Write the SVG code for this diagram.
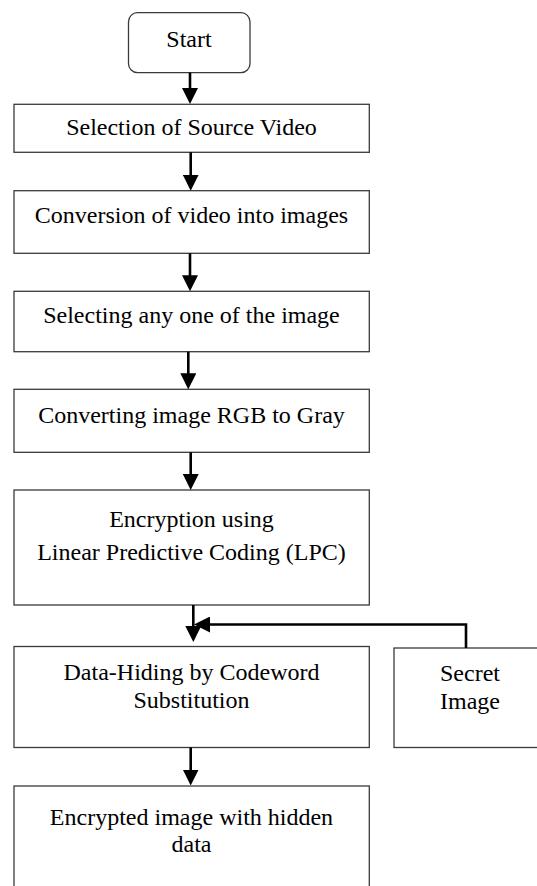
<svg xmlns="http://www.w3.org/2000/svg" width="537" height="886" viewBox="0 0 537 886">
  <style>
    .box { fill: #ffffff; stroke: #3a3a3a; stroke-width: 1.3; }
    .lbl { font-family: 'Liberation Serif', 'Times New Roman', serif; font-size: 24px; fill: #000000; text-anchor: middle; }
    .conn { fill: none; stroke: #000000; stroke-width: 2.6; }
  </style>
  <defs>
    <marker id="ah" viewBox="0 0 16 16" markerWidth="16" markerHeight="16" markerUnits="userSpaceOnUse" refX="8" refY="8" orient="auto">
      <path d="M0,0 L16,8 L0,16 Z" fill="#000000"/>
    </marker>
  </defs>
  <rect x="0" y="0" width="537" height="886" fill="#ffffff"/>

  <g id="start">
    <rect class="box" x="128.5" y="12.7" width="121.5" height="60" rx="9" ry="9"/>
    <text class="lbl" x="189" y="46.7">Start</text>
  </g>
  <g id="selection">
    <rect class="box" x="14" y="104.3" width="355.3" height="48"/>
    <text class="lbl" x="191.5" y="135">Selection of Source Video</text>
  </g>
  <g id="conversion">
    <rect class="box" x="14" y="190.7" width="355.3" height="62.6"/>
    <text class="lbl" x="191.5" y="223">Conversion of video into images</text>
  </g>
  <g id="selecting">
    <rect class="box" x="14" y="291.3" width="355.3" height="60.4"/>
    <text class="lbl" x="191.5" y="323">Selecting any one of the image</text>
  </g>
  <g id="converting">
    <rect class="box" x="14" y="389.3" width="355.3" height="63"/>
    <text class="lbl" x="191.5" y="423">Converting image RGB to Gray</text>
  </g>
  <g id="encryption">
    <rect class="box" x="14" y="490" width="355.3" height="115"/>
    <text class="lbl" x="191.5" y="526.7">Encryption using</text>
    <text class="lbl" x="191.5" y="560">Linear Predictive Coding (LPC)</text>
  </g>
  <g id="datahiding">
    <rect class="box" x="14" y="646.5" width="355.3" height="101"/>
    <text class="lbl" x="191.5" y="679.5">Data-Hiding by Codeword</text>
    <text class="lbl" x="191.5" y="708">Substitution</text>
  </g>
  <g id="secret">
    <rect class="box" x="394" y="648" width="160" height="99.5"/>
    <text class="lbl" x="470" y="681">Secret</text>
    <text class="lbl" x="470" y="708.5">Image</text>
  </g>
  <g id="encrypted">
    <rect class="box" x="14" y="786" width="355.3" height="120"/>
    <text class="lbl" x="191.5" y="824.5">Encrypted image with hidden</text>
    <text class="lbl" x="191.5" y="852">data</text>
  </g>

  <g id="connectors">
    <path class="conn" d="M190,72.7 V96" marker-end="url(#ah)"/>
    <path class="conn" d="M190.7,152.3 V182.7" marker-end="url(#ah)"/>
    <path class="conn" d="M190,253.3 V283.3" marker-end="url(#ah)"/>
    <path class="conn" d="M188.3,351.7 V381.3" marker-end="url(#ah)"/>
    <path class="conn" d="M190.7,452.3 V482" marker-end="url(#ah)"/>
    <path class="conn" d="M193.3,605 V634" marker-end="url(#ah)"/>
    <path class="conn" d="M466,648 V624.5 H202" marker-end="url(#ah)"/>
    <path class="conn" d="M190.7,747.5 V777.5" marker-end="url(#ah)"/>
  </g>
</svg>
